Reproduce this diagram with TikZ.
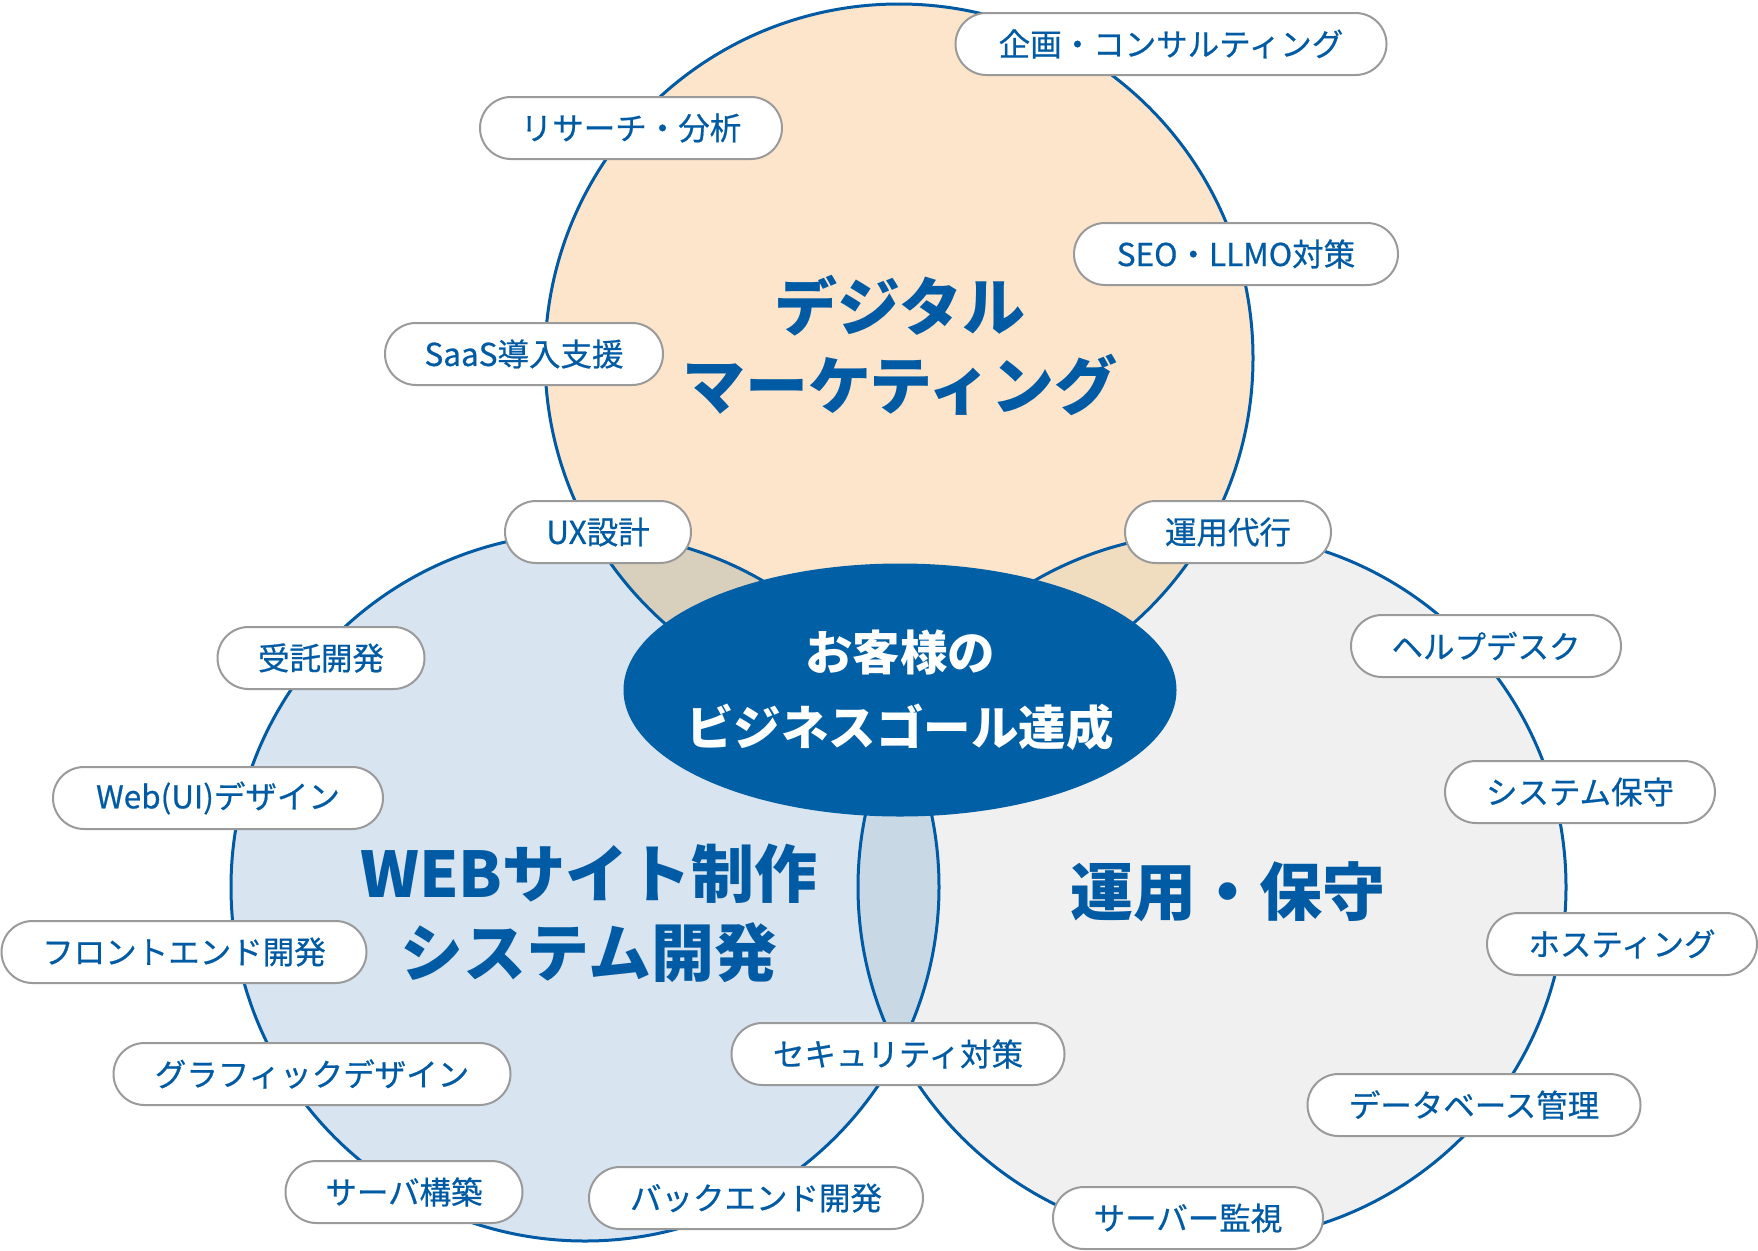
\documentclass[tikz,border=0pt]{standalone}
\usepackage{fontspec}
\setmainfont{Noto Sans CJK JP}
\newfontfamily\pillfont{Noto Sans CJK JP}[FakeBold=0.6]
\usetikzlibrary{shapes.geometric}
\definecolor{mblue}{HTML}{005BA4}
\definecolor{eblue}{HTML}{015FA6}
\definecolor{peach}{HTML}{FCE5CB}
\definecolor{lblue}{HTML}{D8E4F0}
\definecolor{lgray}{HTML}{F0F0F0}
\definecolor{ptl}{HTML}{D8CFBD}
\definecolor{ptr}{HTML}{F0DCBF}
\definecolor{plr}{HTML}{C9D8E5}
\definecolor{pillgray}{HTML}{9A9A9A}
\begin{document}
\begin{tikzpicture}[x=1pt,y=-1pt,
  pill/.style={draw=pillgray, line width=2pt, fill=white, rounded corners=31pt,
    minimum height=62pt, inner sep=0pt, text=mblue, font=\pillfont\fontsize{31.5}{31.5}\selectfont},
  big/.style={text=mblue, font=\fontsize{63}{79}\selectfont\bfseries, align=center, inner sep=0pt},
  ring/.style={draw=mblue, line width=3pt}]
\useasboundingbox (0,0) rectangle (1758,1250);
\coordinate (ct) at (899,358);
\coordinate (cl) at (585,887);
\coordinate (cr) at (1212,887);
% fills
\fill[peach] (ct) circle[radius=354pt];
\fill[lblue] (cl) circle[radius=354pt];
\fill[lgray] (cr) circle[radius=354pt];
\begin{scope}
  \clip (ct) circle[radius=354pt];
  \fill[ptl] (cl) circle[radius=354pt];
  \fill[ptr] (cr) circle[radius=354pt];
\end{scope}
\begin{scope}
  \clip (cl) circle[radius=354pt];
  \fill[plr] (cr) circle[radius=354pt];
\end{scope}
% strokes
\draw[ring] (ct) circle[radius=354pt];
\draw[ring] (cl) circle[radius=354pt];
\draw[ring] (cr) circle[radius=354pt];
% big labels
\node[big] (mkt) at (900,345) {デジタル\\マーケティング};
\node[big] (web) at (589,913) {WEBサイト制作\\システム開発};
\node[big] (ops) at (1228,892) {運用・保守};
% center goal
\node[ellipse, fill=eblue, minimum width=553pt, minimum height=253pt, inner sep=0pt] (goal) at (900,690) {};
\node[text=white, font=\fontsize{47.5}{75}\selectfont\bfseries, align=center, inner sep=0pt] (goaltext) at (goal.center) {お客様の\\ビジネスゴール達成};
% pills
\node[pill, minimum width=431pt] (p1) at (1171,44) {企画・コンサルティング};
\node[pill, minimum width=302pt] (p2) at (631,128) {リサーチ・分析};
\node[pill, minimum width=324pt] (p3) at (1236,254) {SEO・LLMO対策};
\node[pill, minimum width=278pt] (p4) at (524,354) {SaaS導入支援};
\node[pill, minimum width=186pt] (p5) at (598,532) {UX設計};
\node[pill, minimum width=206pt] (p6) at (1228,532) {運用代行};
\node[pill, minimum width=207pt] (p7) at (321,658) {受託開発};
\node[pill, minimum width=330pt] (p8) at (218,798) {Web(UI)デザイン};
\node[pill, minimum width=270pt] (p9) at (1486,646) {ヘルプデスク};
\node[pill, minimum width=270pt] (p10) at (1580,792) {システム保守};
\node[pill, minimum width=270pt] (p11) at (1622,944) {ホスティング};
\node[pill, minimum width=365pt] (p12) at (184,952) {フロントエンド開発};
\node[pill, minimum width=397pt] (p13) at (312,1074) {グラフィックデザイン};
\node[pill, minimum width=237pt] (p14) at (404,1192) {サーバ構築};
\node[pill, minimum width=334pt] (p15) at (756,1198) {バックエンド開発};
\node[pill, minimum width=333pt] (p16) at (898,1054) {セキュリティ対策};
\node[pill, minimum width=333pt] (p17) at (1474,1105) {データベース管理};
\node[pill, minimum width=270pt] (p18) at (1188,1218) {サーバー監視};
\end{tikzpicture}
\end{document}
